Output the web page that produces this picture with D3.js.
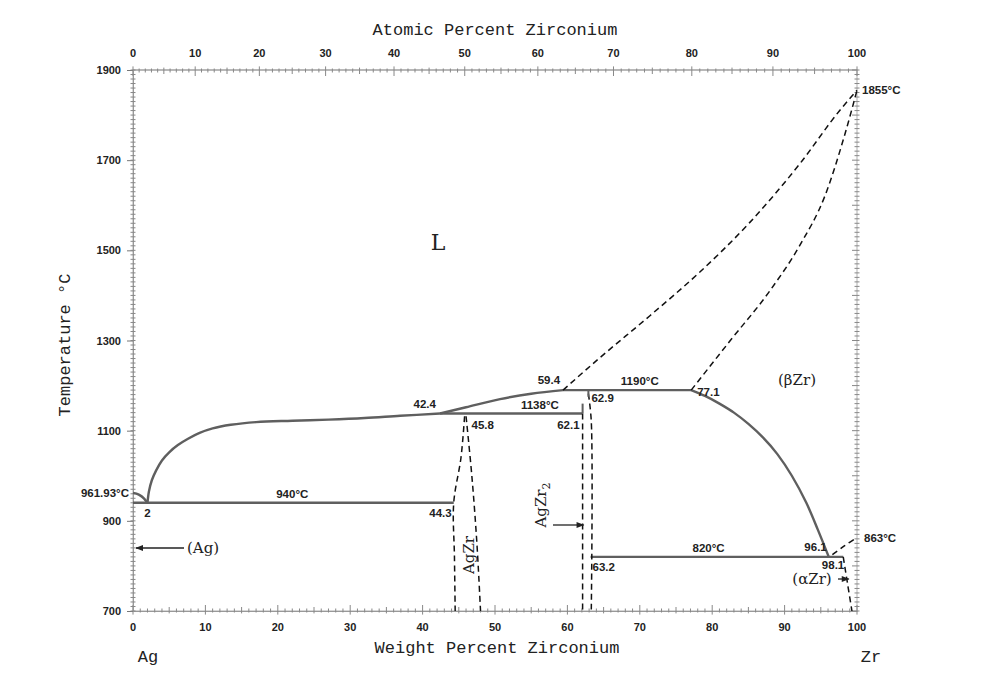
<!DOCTYPE html>
<html><head><meta charset="utf-8">
<script src="https://cdn.jsdelivr.net/npm/d3@7"></script>
<style>
body{margin:0;background:#fff;}
svg{display:block;}
.tk{font-family:"Liberation Sans",Arial,sans-serif;font-weight:bold;font-size:11px;fill:#222;}
.lab{font-family:"Liberation Sans",Arial,sans-serif;font-weight:bold;font-size:11.5px;fill:#222;}
.ttl{font-family:"Liberation Mono","DejaVu Sans Mono",monospace;font-size:17px;fill:#222;}
.ser{font-family:"DejaVu Serif","Liberation Serif",serif;fill:#222;}
</style></head>
<body><svg id="c" width="997" height="680"></svg>
<script>
// ---- data (weight % Zr, temperature °C) ----
const wtTicks = [0,10,20,30,40,50,60,70,80,90,100];
const atTicks = [0,10,20,30,40,50,60,70,80,90,100];
const tempTicks = [700,900,1100,1300,1500,1700,1900];
const massAg = 107.868, massZr = 91.224;

const agLiquidus = [[0,961.93],[0.8,958],[1.5,950],[2,940]];
const liquidus1 = [[2,940],[2.2,965],[2.6,990],[3.2,1012],[4,1034],[5,1052],[6.2,1068],[7.6,1082],[9.2,1095],[11,1105],[13.5,1113],[17,1119],[22,1122],[27,1124.5],[32,1128],[36.9,1133],[42.4,1138]];
const liquidus2 = [[42.4,1138],[46,1152],[50.7,1170],[55,1182],[59.4,1190]];
const liquidus3 = [[59.4,1190],[64.5,1262],[71.4,1355],[78.3,1452],[85.2,1562],[92.1,1692],[97.7,1812],[100,1855]];
const betaSolidus = [[77.1,1190],[82.5,1300],[88.0,1411],[92.1,1511],[95.6,1622],[98.3,1756],[100,1855]];
const betaSolvus = [[77.1,1190],[79,1177],[81,1160],[83,1140],[85,1115],[87,1085],[89,1048],[91,1000],[93,940],[94.6,880],[96.1,820]];
const betaTransus = [[96.6,825],[98.3,845],[100,863]];
const alphaSolvus = [[98.1,820],[98.7,760],[99.3,700]];
const agzrLeft = [[45.8,1132],[45.3,1040],[44.3,940],[44.4,820],[44.5,700]];
const agzrRight = [[46.0,1132],[46.8,1000],[47.5,850],[48.0,700]];
const agzr2Left = [[62.1,1138],[62.1,700]];
const agzr2Right = [[62.9,1182],[63.3,1120],[63.3,700]];
const isotherms = [
  {t:940, x0:0, x1:44.3},
  {t:1138, x0:42.4, x1:62.1},
  {t:1190, x0:59.4, x1:77.1},
  {t:820, x0:63.2, x1:98.1}
];
const texts = [
  {s:"961.93°C", x:0, t:961.93, dx:-4, dy:4, a:"end"},
  {s:"2", x:2, t:940, dx:0, dy:14, a:"middle"},
  {s:"940°C", x:22, t:940, dx:0, dy:-5, a:"middle"},
  {s:"44.3", x:44.3, t:940, dx:-2, dy:14, a:"end"},
  {s:"42.4", x:42.4, t:1138, dx:-4, dy:-6, a:"end"},
  {s:"45.8", x:45.8, t:1138, dx:7, dy:15, a:"start"},
  {s:"1138°C", x:56.2, t:1138, dx:0, dy:-5, a:"middle"},
  {s:"62.1", x:62.1, t:1138, dx:-3, dy:15, a:"end"},
  {s:"59.4", x:59.4, t:1190, dx:-3, dy:-6, a:"end"},
  {s:"62.9", x:62.9, t:1190, dx:3, dy:12, a:"start"},
  {s:"1190°C", x:70, t:1190, dx:0, dy:-5, a:"middle"},
  {s:"77.1", x:77.1, t:1190, dx:6, dy:6, a:"start"},
  {s:"820°C", x:79.5, t:820, dx:0, dy:-5, a:"middle"},
  {s:"96.1", x:96.1, t:820, dx:-2, dy:-6, a:"end"},
  {s:"98.1", x:98.1, t:820, dx:1, dy:12, a:"end"},
  {s:"63.2", x:63.2, t:820, dx:2, dy:14, a:"start"},
  {s:"863°C", x:100, t:863, dx:7, dy:4, a:"start"},
  {s:"1855°C", x:100, t:1855, dx:5, dy:4, a:"start"}
];

// ---- layout ----
const svg = d3.select("#c");
const x = d3.scaleLinear().domain([0,100]).range([133,857]);
const y = d3.scaleLinear().domain([700,1900]).range([611,70]);
const atToWt = a => 100*a*massZr/(a*massZr+(100-a)*massAg);

// frame
svg.append("rect").attr("x",x(0)).attr("y",y(1900)).attr("width",x(100)-x(0)).attr("height",y(700)-y(1900))
  .attr("fill","none").attr("stroke","#bdbdbd").attr("stroke-width",1.2);

const tc = "#888";
// bottom axis
const bx = svg.append("g").attr("transform",`translate(0,${y(700)})`);
bx.call(d3.axisBottom(x).tickValues(d3.range(0,101,1)).tickSize(0).tickFormat(""));
bx.select(".domain").attr("stroke","#999");
d3.range(0,101,1).forEach(v=>{
  const L = v%10===0?6:(v%5===0?4:2.5);
  bx.append("line").attr("x1",x(v)).attr("x2",x(v)).attr("y1",-L).attr("y2",L*0.6).attr("stroke",tc);
});
bx.selectAll(".wl").data(wtTicks).join("text").attr("class","tk").attr("x",d=>x(d)).attr("y",20).attr("text-anchor","middle").text(d=>d);

// top axis (atomic %)
const tx = svg.append("g").attr("transform",`translate(0,${y(1900)})`);
tx.append("line").attr("x1",x(0)).attr("x2",x(100)).attr("stroke","#999");
d3.range(0,101,1).forEach(a=>{
  const L = a%10===0?6:(a%5===0?4:2.5);
  tx.append("line").attr("x1",x(atToWt(a))).attr("x2",x(atToWt(a))).attr("y1",-L*0.6).attr("y2",L).attr("stroke",tc);
});
tx.selectAll(".al").data(atTicks).join("text").attr("class","tk").attr("x",d=>x(atToWt(d))).attr("y",-13).attr("text-anchor","middle").text(d=>d);

// left axis
const ly = svg.append("g").attr("transform",`translate(${x(0)},0)`);
ly.call(d3.axisLeft(y).tickValues(tempTicks).tickSize(6).tickFormat(""));
ly.select(".domain").attr("stroke","#999");
ly.selectAll(".tick line").attr("stroke","#777");
d3.range(700,1901,10).forEach(t=>{
  ly.append("line").attr("x1",-2.5).attr("x2",2.5).attr("y1",y(t)).attr("y2",y(t)).attr("stroke",tc);
});
ly.selectAll(".tl").data(tempTicks).join("text").attr("class","tk").attr("x",-12).attr("y",d=>y(d)+4).attr("text-anchor","end").text(d=>d);

// right axis
const ry = svg.append("g").attr("transform",`translate(${x(100)},0)`);
d3.range(700,1901,10).forEach(t=>{
  const L = t%100===0?5:2.5;
  ry.append("line").attr("x1",-L).attr("x2",2.5).attr("y1",y(t)).attr("y2",y(t)).attr("stroke",tc);
});

// titles
svg.append("text").attr("class","ttl").attr("x",495).attr("y",35).attr("text-anchor","middle").text("Atomic Percent Zirconium");
svg.append("text").attr("class","ttl").attr("x",497).attr("y",653).attr("text-anchor","middle").text("Weight Percent Zirconium");
svg.append("text").attr("class","ttl").attr("transform","translate(70,345) rotate(-90)").attr("text-anchor","middle").attr("font-size",18).text("Temperature °C");
svg.append("text").attr("class","ttl").attr("x",148).attr("y",662).attr("text-anchor","middle").text("Ag");
svg.append("text").attr("class","ttl").attr("x",871).attr("y",662).attr("text-anchor","middle").text("Zr");

// lines
const line = d3.line().x(d=>x(d[0])).y(d=>y(d[1])).curve(d3.curveMonotoneX);
const lineY = d3.line().x(d=>x(d[0])).y(d=>y(d[1])).curve(d3.curveCatmullRom);
const solid = (data,gen)=>svg.append("path").datum(data).attr("d",gen||line).attr("fill","none").attr("stroke","#5f5f5f").attr("stroke-width",2.4);
const dashed = (data,gen)=>svg.append("path").datum(data).attr("d",gen||lineY).attr("fill","none").attr("stroke","#111").attr("stroke-width",1.5).attr("stroke-dasharray","6,4");

isotherms.forEach(d=>{
  svg.append("line").attr("x1",x(d.x0)).attr("x2",x(d.x1)).attr("y1",y(d.t)).attr("y2",y(d.t)).attr("stroke","#5f5f5f").attr("stroke-width",2.4);
});
solid(agLiquidus);
solid(liquidus1, lineY);
solid(liquidus2);
solid(betaSolvus, lineY);
dashed(liquidus3, line);
dashed(betaSolidus, line);
dashed(betaTransus);
dashed(alphaSolvus);
dashed(agzrLeft);
dashed(agzrRight);
dashed(agzr2Left, d3.line().x(d=>x(d[0])).y(d=>y(d[1])));
dashed(agzr2Right);
// short solid risers
svg.append("line").attr("x1",x(62.1)).attr("x2",x(62.1)).attr("y1",y(1138)).attr("y2",y(1160)).attr("stroke","#5f5f5f").attr("stroke-width",2);
svg.append("line").attr("x1",x(62.9)).attr("x2",x(62.9)).attr("y1",y(1190)).attr("y2",y(1175)).attr("stroke","#5f5f5f").attr("stroke-width",2);

// value labels
svg.selectAll(".vl").data(texts).join("text").attr("class","lab")
  .attr("x",d=>x(d.x)+d.dx).attr("y",d=>y(d.t)+d.dy).attr("text-anchor",d=>d.a).text(d=>d.s);

// phase labels
svg.append("text").attr("class","ser").attr("x",438).attr("y",250).attr("font-size",22).attr("text-anchor","middle").text("L");
svg.append("text").attr("class","ser").attr("x",797).attr("y",385).attr("font-size",15).attr("text-anchor","middle").text("(βZr)");
svg.append("text").attr("class","ser").attr("x",187).attr("y",553).attr("font-size",15).text("(Ag)");
svg.append("text").attr("class","ser").attr("x",812).attr("y",584).attr("font-size",15).attr("text-anchor","middle").text("(αZr)");
svg.append("text").attr("class","ser").attr("transform",`translate(474,${555}) rotate(-90)`).attr("font-size",15).attr("text-anchor","middle").text("AgZr");
const z2 = svg.append("text").attr("class","ser").attr("transform","translate(546,505) rotate(-90)").attr("font-size",15).attr("text-anchor","middle");
z2.append("tspan").text("AgZr");
z2.append("tspan").attr("font-size",11).attr("dy",4).text("2");

// arrows
svg.append("defs").append("marker").attr("id","ah").attr("viewBox","0 0 10 10").attr("refX",9).attr("refY",5)
  .attr("markerWidth",8).attr("markerHeight",6).attr("orient","auto")
  .append("path").attr("d","M0,1 L10,5 L0,9 Z").attr("fill","#222");
const arrow=(x1,y1,x2,y2)=>svg.append("line").attr("x1",x1).attr("y1",y1).attr("x2",x2).attr("y2",y2)
  .attr("stroke","#222").attr("stroke-width",1.3).attr("marker-end","url(#ah)");
arrow(184,548,x(0)+3,548);
arrow(553,525,x(62.1)+1,525);
arrow(838,579,x(99)-1,579);
</script></body></html>
